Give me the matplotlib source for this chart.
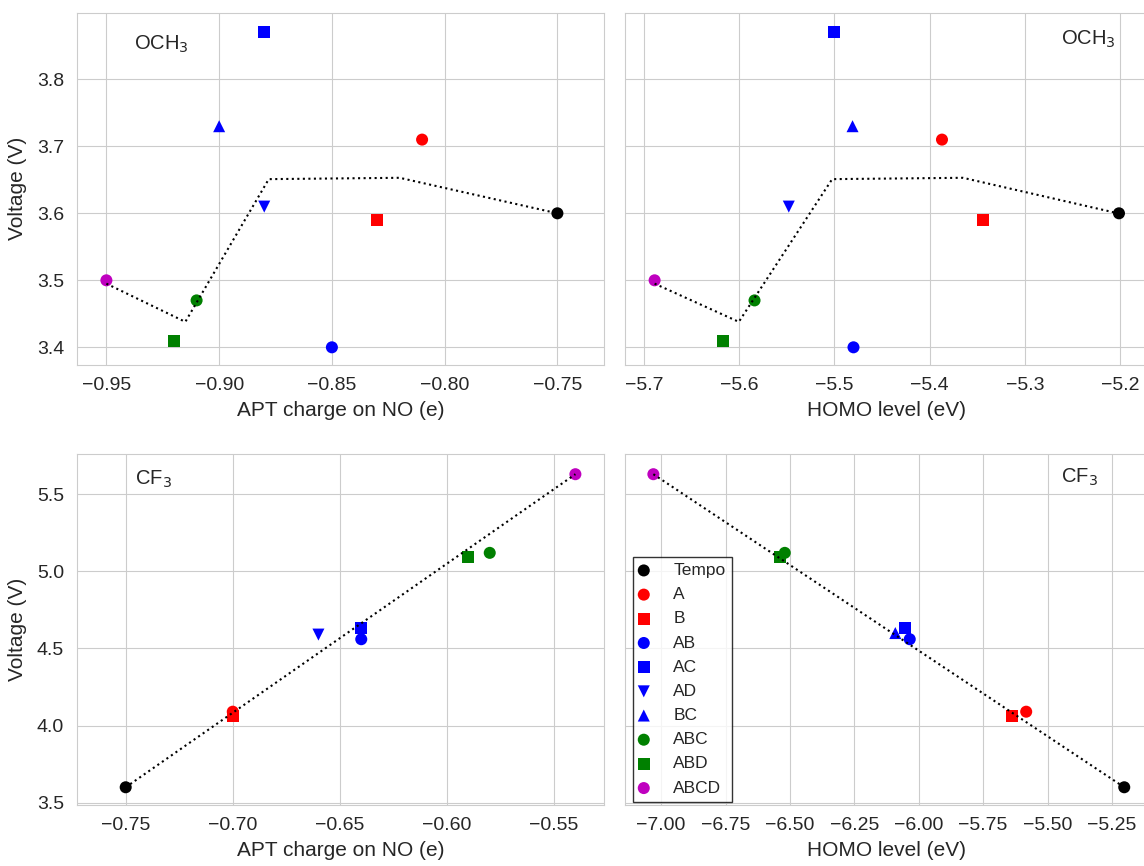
import numpy as np
import matplotlib
matplotlib.use("Agg")
import matplotlib.pyplot as plt
import seaborn as sns

sns.set_style("whitegrid")
plt.rcParams['font.family'] = ['Liberation Sans', 'DejaVu Sans']

# compounds, in legend order
labels = ['Tempo', 'A', 'B', 'AB', 'AC', 'AD', 'BC', 'ABC', 'ABD', 'ABCD']
colors = ['k', 'r', 'r', 'b', 'b', 'b', 'b', 'green', 'green', 'm']
markers = ['o', 'o', 's', 'o', 's', 'v', '^', 'o', 's', 'o']

# OCH3 series
och3_voltage = [3.60, 3.71, 3.59, 3.40, 3.87, 3.61, 3.73, 3.47, 3.41, 3.50]
och3_apt = [-0.75, -0.81, -0.83, -0.85, -0.88, -0.88, -0.90, -0.91, -0.92, -0.95]
och3_homo = [-5.201, -5.387, -5.344, -5.480, -5.500, -5.548, -5.481, -5.584, -5.617, -5.689]

# CF3 series (nan = not shown)
cf3_voltage = [3.60, 4.09, 4.06, 4.56, 4.63, 4.59, 4.60, 5.12, 5.09, 5.63]
cf3_apt = [-0.75, -0.70, -0.70, -0.64, -0.64, -0.66, np.nan, -0.58, -0.59, -0.54]
cf3_homo = [-5.2025, -5.583, -5.639, -6.035, -6.055, np.nan, -6.091, -6.520, -6.537, -7.030]

# dotted trend lines
och3_apt_fit_x = [-0.95, -0.915, -0.878, -0.82, -0.75]
och3_apt_fit_y = [3.495, 3.438, 3.651, 3.653, 3.60]
och3_homo_fit_x = [-5.689, -5.6005, -5.5024, -5.365, -5.202]
och3_homo_fit_y = [3.495, 3.438, 3.651, 3.653, 3.60]
cf3_apt_fit_x = [-0.75, -0.54]
cf3_apt_fit_y = [3.60, 5.63]
cf3_homo_fit_x = [-7.03, -5.2025]
cf3_homo_fit_y = [5.63, 3.60]

fig = plt.figure(figsize=(11.44, 8.66), dpi=100)
W, H = 1144.0, 866.0


def make_ax(x0, x1, y0, y1):
    return fig.add_axes([x0 / W, 1 - y1 / H, (x1 - x0) / W, (y1 - y0) / H])


ax_tl = make_ax(77.3, 604.3, 12.7, 365)
ax_tr = make_ax(625.3, 1148, 12.7, 365)
ax_bl = make_ax(77.3, 604.3, 454, 805)
ax_br = make_ax(625.3, 1148, 454, 805)


def draw(ax, xs, ys, fx, fy):
    for x, y, c, m, lab in zip(xs, ys, colors, markers, labels):
        ax.scatter([x], [y], s=75, c=c, marker=m, label=lab, edgecolors='none')
    ax.plot(fx, fy, ':', color='k', lw=1.5)


draw(ax_tl, och3_apt, och3_voltage, och3_apt_fit_x, och3_apt_fit_y)
draw(ax_tr, och3_homo, och3_voltage, och3_homo_fit_x, och3_homo_fit_y)
draw(ax_bl, cf3_apt, cf3_voltage, cf3_apt_fit_x, cf3_apt_fit_y)
draw(ax_br, cf3_homo, cf3_voltage, cf3_homo_fit_x, cf3_homo_fit_y)

ax_tl.set_xlim(-0.9629, -0.7292)
ax_tr.set_xlim(-5.7198, -5.1705)
ax_bl.set_xlim(-0.7726, -0.5265)
ax_br.set_xlim(-7.1389, -5.1103)
for ax in (ax_tl, ax_tr):
    ax.set_ylim(3.3736, 3.8994)
    ax.set_yticks(np.arange(3.4, 3.81, 0.1))
for ax in (ax_bl, ax_br):
    ax.set_ylim(3.485, 5.761)
    ax.set_yticks(np.arange(3.5, 5.51, 0.5))

ax_tl.set_xticks(np.arange(-0.95, -0.749, 0.05))
ax_tr.set_xticks(np.arange(-5.7, -5.19, 0.1))
ax_bl.set_xticks(np.arange(-0.75, -0.549, 0.05))
ax_br.set_xticks(np.arange(-7.0, -5.24, 0.25))
ax_tl.xaxis.set_major_formatter('{x:.2f}')
ax_bl.xaxis.set_major_formatter('{x:.2f}')
ax_tr.xaxis.set_major_formatter('{x:.1f}')
ax_br.xaxis.set_major_formatter('{x:.2f}')
ax_tl.yaxis.set_major_formatter('{x:.1f}')
ax_bl.yaxis.set_major_formatter('{x:.1f}')

for ax in (ax_tl, ax_tr, ax_bl, ax_br):
    ax.tick_params(labelsize=14, colors='.15')
    ax.tick_params(axis='x', pad=5)
    ax.tick_params(axis='y', pad=6)
    for sp in ax.spines.values():
        sp.set_color('.8')
for ax in (ax_tr, ax_br):
    ax.tick_params(labelleft=False)

for ax in (ax_tl, ax_bl):
    ax.set_xlabel('APT charge on NO (e)', fontsize=15, color='.15', labelpad=5)
    ax.set_ylabel('Voltage (V)', fontsize=15, color='.15', labelpad=7)
for ax in (ax_tr, ax_br):
    ax.set_xlabel('HOMO level (eV)', fontsize=15, color='.15', labelpad=5)

ax_tl.text(0.108, 0.896, r'OCH$_3$', transform=ax_tl.transAxes, fontsize=14.5, color='.15')
ax_tr.text(0.834, 0.908, r'OCH$_3$', transform=ax_tr.transAxes, fontsize=14.5, color='.15')
ax_bl.text(0.109, 0.912, r'CF$_3$', transform=ax_bl.transAxes, fontsize=14.5, color='.15')
ax_br.text(0.833, 0.917, r'CF$_3$', transform=ax_br.transAxes, fontsize=14.5, color='.15')

leg = ax_br.legend(loc='lower left', bbox_to_anchor=(0.0154, 0.0094), borderaxespad=0,
                   fontsize=12.5, frameon=True, fancybox=False, edgecolor='k',
                   handlelength=0.5, handletextpad=1.45, borderpad=0.35, labelspacing=0.52,
                   scatterpoints=1)
leg.get_frame().set_linewidth(1.0)

fig.savefig('out.png', dpi=100)
